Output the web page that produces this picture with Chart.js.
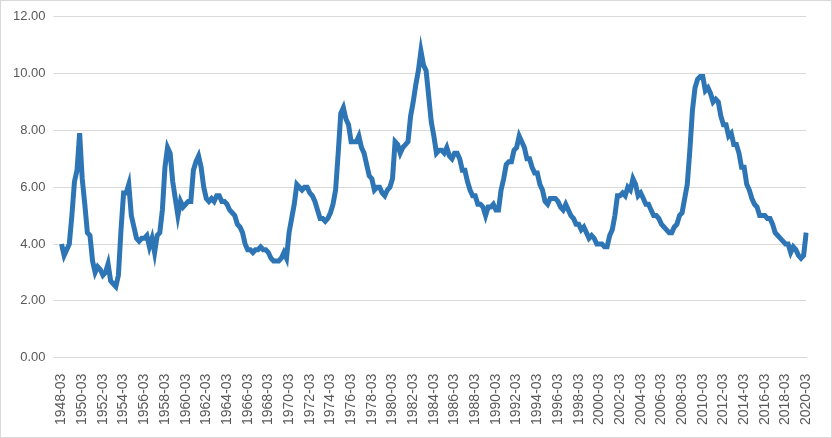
<!DOCTYPE html>
<html><head><meta charset="utf-8">
<script src="https://cdn.jsdelivr.net/npm/chart.js@4"></script>
<style>html,body{margin:0;padding:0;background:#fff}#w{width:830px;height:436px;border:1px solid #d9d9d9}</style>
</head><body><div id="w"><canvas id="c"></canvas></div>
<script>
const startYear = 1948;
const months = ["03","06","09","12"];
const values = [
4.0,3.6,3.8,4.0, 5.0,6.2,6.6,7.9, 6.3,5.4,4.4,4.3, 3.4,3.0,3.2,3.1, 2.9,3.0,3.3,2.7,
2.6,2.5,2.9,4.5, 5.8,5.8,6.1,5.0, 4.6,4.2,4.1,4.2, 4.2,4.3,3.9,4.2, 3.7,4.3,4.4,5.2,
6.7,7.4,7.2,6.2, 5.6,5.0,5.5,5.3, 5.4,5.5,5.5,6.6, 6.9,7.1,6.7,6.0, 5.6,5.5,5.6,5.5,
5.7,5.7,5.5,5.5, 5.4,5.2,5.1,5.0, 4.7,4.6,4.4,4.0, 3.8,3.8,3.7,3.8, 3.8,3.9,3.8,3.8,
3.7,3.5,3.4,3.4, 3.4,3.5,3.7,3.5, 4.4,4.9,5.4,6.1, 6.0,5.9,6.0,6.0, 5.8,5.7,5.5,5.2,
4.9,4.9,4.8,4.9, 5.1,5.4,5.9,7.2, 8.6,8.8,8.4,8.2, 7.6,7.6,7.6,7.8, 7.4,7.2,6.8,6.4,
6.3,5.9,6.0,6.0, 5.8,5.7,5.9,6.0, 6.3,7.6,7.5,7.2, 7.4,7.5,7.6,8.5, 9.0,9.6,10.1,10.8,
10.3,10.1,9.2,8.3, 7.8,7.2,7.3,7.3, 7.2,7.4,7.1,7.0, 7.2,7.2,7.0,6.6, 6.6,6.2,5.9,5.7,
5.7,5.4,5.4,5.3, 5.0,5.3,5.3,5.4, 5.2,5.2,5.9,6.3, 6.8,6.9,6.9,7.3, 7.4,7.8,7.6,7.4,
7.0,7.0,6.7,6.5, 6.5,6.1,5.9,5.5, 5.4,5.6,5.6,5.6, 5.5,5.3,5.2,5.4, 5.2,5.0,4.9,4.7,
4.7,4.5,4.6,4.4, 4.2,4.3,4.2,4.0, 4.0,4.0,3.9,3.9, 4.3,4.5,5.0,5.7, 5.7,5.8,5.7,6.0,
5.9,6.3,6.1,5.7, 5.8,5.6,5.4,5.4, 5.2,5.0,5.0,4.9, 4.7,4.6,4.5,4.4, 4.4,4.6,4.7,5.0,
5.1,5.6,6.1,7.3, 8.7,9.5,9.8,9.9, 9.9,9.4,9.5,9.3, 9.0,9.1,9.0,8.5, 8.2,8.2,7.8,7.9,
7.5,7.5,7.2,6.7, 6.7,6.1,5.9,5.6, 5.4,5.3,5.0,5.0, 5.0,4.9,4.9,4.7, 4.4,4.3,4.2,4.1,
4.0,4.0,3.7,3.9, 3.8,3.6,3.5,3.6, 4.4];
const labels = values.map((v,i)=> (startYear+Math.floor(i/4)) + "-" + months[i%4]);
new Chart(document.getElementById('c'),{
 type:'line',
 data:{labels, datasets:[{data:values,borderColor:'#2E75B6',borderWidth:5,pointRadius:0,tension:0}]},
 options:{responsive:true,maintainAspectRatio:false,animation:false,
  layout:{padding:{top:8,right:10,left:4,bottom:4}},
  plugins:{legend:{display:false},tooltip:{enabled:false}},
  scales:{
   x:{grid:{display:false},border:{color:'#d9d9d9'},
      ticks:{autoSkip:false,maxRotation:90,minRotation:90,padding:8,color:'#595959',font:{family:'Liberation Sans',size:14},
        callback:function(v,i){return i%8===0?labels[i]:null;}}},
   y:{min:0,max:12,grid:{color:'#d9d9d9'},border:{display:false},
      ticks:{stepSize:2,color:'#595959',padding:8,font:{family:'Liberation Sans',size:13},callback:v=>v.toFixed(2)}}
  }}
});
</script></body></html>
